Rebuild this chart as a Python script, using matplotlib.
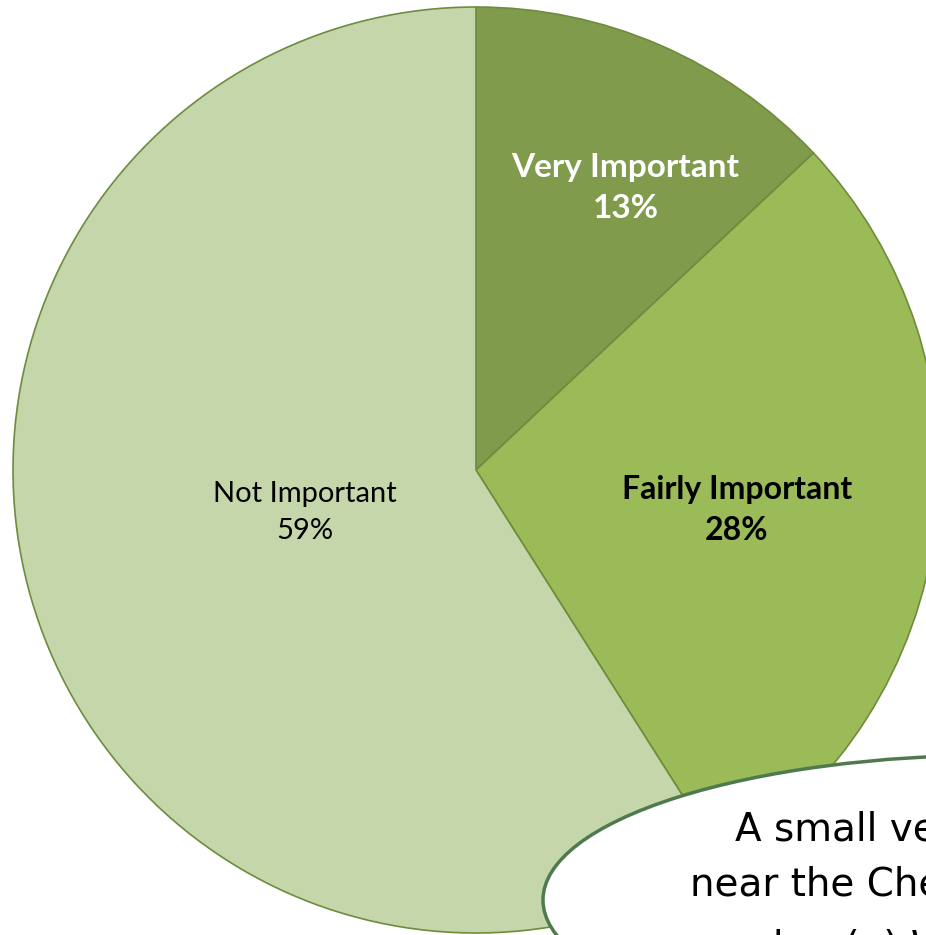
import numpy as np
import matplotlib.pyplot as plt
from matplotlib.patches import Ellipse

labels = ["Very Important", "Fairly Important", "Not Important"]
shares = [13, 28, 59]
colors = ["#7f9b4b", "#9bbb59", "#c4d6aa"]
text_colors = ["white", "black", "black"]
weights = ["bold", "bold", "normal"]
font_sizes = [24, 23, 21]
label_r = [0.69, 0.57, 0.38]   # label distance as fraction of radius
label_da = [-4.5, -1.5, -2.2]  # small angle tweak, degrees

note_lines = ["A small vegetable garden", "near the Chef's kitchen", "garden (a) Wi"]

W, H = 926, 935
fig = plt.figure(figsize=(W / 100, H / 100), dpi=100)
ax = fig.add_axes([0, 0, 1, 1])

cx, cy, R = 476, H - 470, 463
wedges, _ = ax.pie(shares, colors=colors, startangle=90, counterclock=False,
                   center=(cx, cy), radius=R, frame=True,
                   wedgeprops=dict(edgecolor="#6e8c3c", linewidth=1.2))
ax.set_xlim(0, W)
ax.set_ylim(0, H)
ax.set_aspect("equal")
ax.axis("off")

for w, lab, s, tc, fw, fs, fr, da in zip(wedges, labels, shares, text_colors, weights,
                                         font_sizes, label_r, label_da):
    ang = np.deg2rad((w.theta1 + w.theta2) / 2 + da)
    x = cx + fr * R * np.cos(ang)
    y = cy + fr * R * np.sin(ang)
    ax.text(x, y, f"{lab}\n{s}%", ha="center", va="center", color=tc,
            fontsize=fs, fontweight=fw, family="Lato", linespacing=1.5)

# callout bubble, mostly off the right edge
ell = Ellipse((1000, H - 900), 914, 290, facecolor="white", edgecolor="#4f7a4f",
              linewidth=2.5, zorder=5)
ax.add_patch(ell)
note_x = [735, 690, 695]
note_y = [830, 885, 948]
for t, x, y in zip(note_lines, note_x, note_y):
    ax.text(x, H - y, t, ha="left", va="center", fontsize=28,
            family="DejaVu Sans", color="black", zorder=6)

fig.savefig("out.png", dpi=100)
